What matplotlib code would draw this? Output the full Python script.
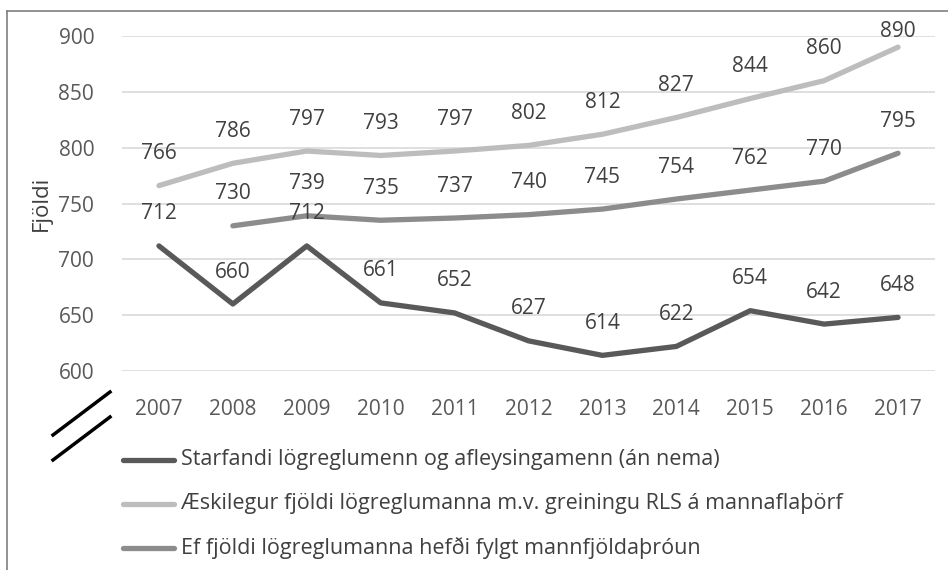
import matplotlib.pyplot as plt
from matplotlib.lines import Line2D

plt.rcParams['font.family'] = ['Open Sans', 'DejaVu Sans']

years = [2007, 2008, 2009, 2010, 2011, 2012, 2013, 2014, 2015, 2016, 2017]
starfandi = [712, 660, 712, 661, 652, 627, 614, 622, 654, 642, 648]
aeskilegur = [766, 786, 797, 793, 797, 802, 812, 827, 844, 860, 890]
mannfjoldi = [None, 730, 739, 735, 737, 740, 745, 754, 762, 770, 795]

labels = [
    "Starfandi lögreglumenn og afleysingamenn (án nema)",
    "Æskilegur fjöldi lögreglumanna m.v. greiningu RLS á mannaflaþörf",
    "Ef fjöldi lögreglumanna hefði fylgt mannfjöldaþróun",
]
colors = ['#595959', '#bdbdbd', '#8c8c8c']
txt = '#404040'
fs = 15

W, H = 948, 570
fig = plt.figure(figsize=(W / 100, H / 100), dpi=100)
ax = fig.add_axes([122 / W, (H - 371) / H, (935 - 122) / W, (371 - 36) / H])

series = [starfandi, aeskilegur, mannfjoldi]
pos = list(range(len(years)))
for vals, c in zip(series, colors):
    xs = [p for p, v in zip(pos, vals) if v is not None]
    ys = [v for v in vals if v is not None]
    ax.plot(xs, ys, color=c, lw=3.8, solid_capstyle='round', clip_on=False, zorder=3)
    for x, y in zip(xs, ys):
        off = 11 if y >= 880 else 23  # keep top label inside the frame
        ax.annotate(str(y), (x, y), xytext=(0, off), textcoords='offset points',
                    ha='center', va='center', fontsize=fs, color=txt, zorder=4)

ax.set_xlim(-0.5, len(years) - 0.5)
ax.set_ylim(600, 900)
ax.set_yticks(range(600, 901, 50))
ax.set_xticks(pos)
ax.set_xticklabels([str(y) for y in years])
ax.grid(axis='y', color='#d9d9d9', lw=1.2)
ax.set_axisbelow(True)
for s in ax.spines.values():
    s.set_visible(False)
ax.tick_params(length=0, labelsize=fs, labelcolor='#595959')
ax.tick_params(axis='x', pad=20)
ax.tick_params(axis='y', pad=20)
ax.set_ylabel('Fjöldi', fontsize=16, color=txt, labelpad=5)

# axis break marks
fig.add_artist(Line2D([53 / W, 110 / W], [(H - 435) / H, (H - 392) / H], color='black', lw=2.5))
fig.add_artist(Line2D([53 / W, 110 / W], [(H - 460) / H, (H - 417) / H], color='black', lw=2.5))

# legend
for i, (lab, c) in enumerate(zip(labels, colors)):
    yy = (H - (460 + i * 44)) / H
    fig.add_artist(Line2D([123 / W, 174 / W], [yy, yy], color=c, lw=3.8, solid_capstyle='round'))
    fig.text(181 / W, yy, lab, fontsize=15.5, color=txt, va='center', ha='left')

# outer border
fig.add_artist(Line2D([7 / W, 7 / W], [0, (H - 11) / H], color='#7f7f7f', lw=1.2))
fig.add_artist(Line2D([7 / W, 1], [(H - 11) / H, (H - 11) / H], color='#7f7f7f', lw=1.2))

fig.savefig('out.png', dpi=100)
